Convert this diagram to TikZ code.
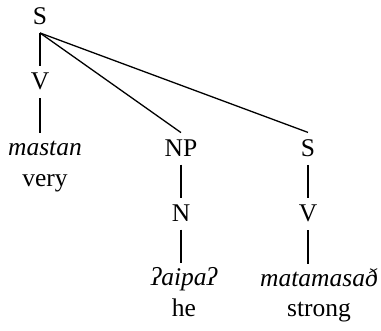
\documentclass[tikz,border=0pt]{standalone}
\usepackage{fontspec}
\setmainfont{Liberation Serif}
\usepackage{tikz}

\begin{document}
\begin{tikzpicture}[x=1pt, y=1pt,
            every node/.style = {anchor=base, inner xsep=1pt, inner ysep=7.5pt,
                                 font=\fontsize{25.5}{30}\selectfont},
            leaf/.style = {font=\fontsize{25.5}{30}\selectfont\itshape, text height=15pt},
            gloss/.style = {inner ysep=0pt},
            branch/.style = {line width=1.3pt}]
    \useasboundingbox (0,0) rectangle (381,-331);
    % categories
    \node (s0) at (40,-25) {S};
    \node (v1) at (40,-90) {V};
    \node (np) at (181,-157) {NP};
    \node (n) at (181,-222) {N};
    \node (s1) at (308,-157) {S};
    \node (v2) at (308,-222) {V};
    % words and glosses
    \node[leaf] (w1) at (45,-156) {mastan};
    \node[gloss] (g1) at ([yshift=-31pt]w1.base) {very};
    \node[leaf] (w2) at (184,-286) {ʔaipaʔ};
    \node[gloss] (g2) at ([yshift=-31pt]w2.base) {he};
    \node[leaf] (w3) at (319,-287) {matamasað};
    \node[gloss] (g3) at ([yshift=-30pt]w3.base) {strong};
    % branches
    \draw[branch] (s0.south) -- (v1.north);
    \draw[branch] (s0.south) -- (np.north);
    \draw[branch] (s0.south) -- (s1.north);
    \draw[branch] (v1.south) -- (v1.south |- w1.north);
    \draw[branch] (np.south) -- (n.north);
    \draw[branch] (n.south) -- (n.south |- w2.north);
    \draw[branch] (s1.south) -- (v2.north);
    \draw[branch] (v2.south) -- (v2.south |- w3.north);
\end{tikzpicture}
\end{document}
